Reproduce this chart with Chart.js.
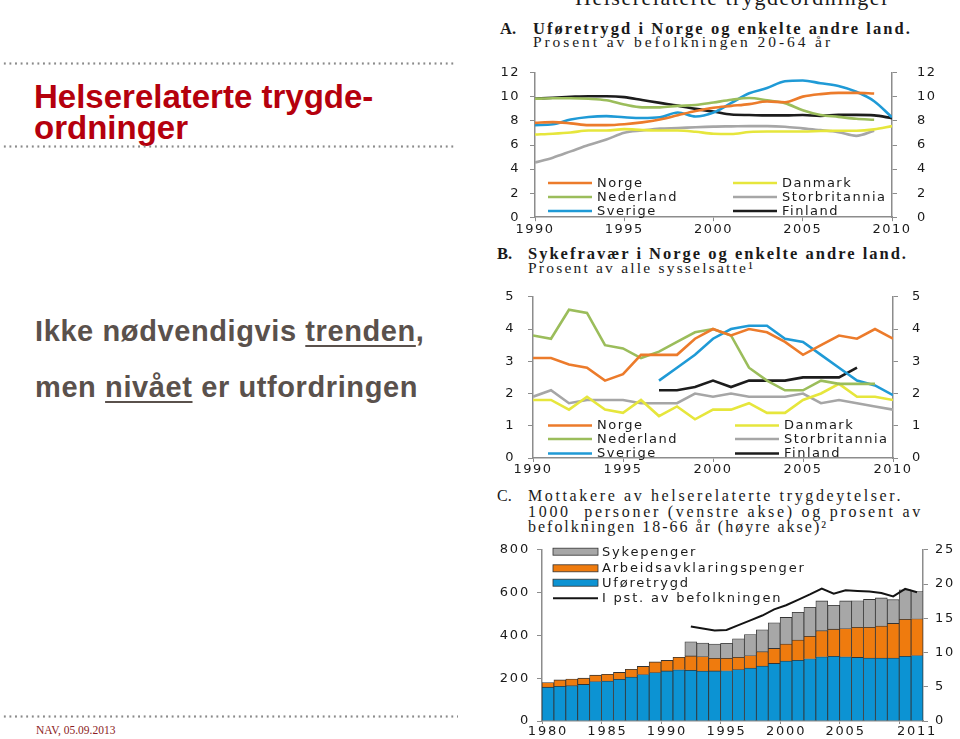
<!DOCTYPE html>
<html>
<head>
<meta charset="utf-8">
<script src="https://cdn.jsdelivr.net/npm/chart.js@4.4.0/dist/chart.umd.min.js"></script>
<style>
  body { margin: 0; background: #fff; }
  #slide { position: relative; width: 960px; height: 739px; overflow: hidden; background: #fff;
           font-family: "Liberation Sans", Arial, sans-serif; }
  .abs { position: absolute; white-space: pre; line-height: 1; }
  .dots { position: absolute; left: 2px; height: 3px;
          background-image: radial-gradient(circle, #8a8a8a 0.9px, transparent 1.4px);
          background-size: 5.6px 3px; background-repeat: repeat-x; }
  .title { color: #b5000d; font-weight: bold; font-size: 33px; left: 34px; }
  .body { color: #5a514c; font-weight: bold; font-size: 29px; left: 35px; letter-spacing: 0.6px; }
  .u { text-decoration: underline; text-decoration-thickness: 2px; text-underline-offset: 4px; }
  .serif { font-family: "Liberation Serif", "Times New Roman", serif; color: #1a1a1a; font-size: 15.5px; }
  .head { font-size: 16.5px; font-weight: bold; }
  .ctitle { font-size: 16px; }
  canvas { position: absolute; }
</style>
</head>
<body>
<div id="slide">
  <div class="abs serif" style="left:575px;top:-13px;font-size:22px;" data-w="315">Helserelaterte trygdeordninger</div>

  <div class="dots" style="top:62px;width:454px"></div>
  <div class="abs title" style="top:80px">Helserelaterte trygde-</div>
  <div class="abs title" style="top:111px">ordninger</div>
  <div class="dots" style="top:145px;width:454px"></div>

  <div class="abs body" style="top:317px">Ikke nødvendigvis <span class="u">trenden</span>,</div>
  <div class="abs body" style="top:373px">men <span class="u">nivået</span> er utfordringen</div>

  <div class="dots" style="top:715px;width:456px"></div>
  <div class="abs" style="left:36px;top:725px;font-family:'Liberation Serif',serif;font-size:11.5px;color:#8b1c24">NAV, 05.09.2013</div>

  <!-- chart titles -->
  <div class="abs serif head" style="left:500px;top:20.5px">A.</div>
  <div class="abs serif head" style="left:533px;top:20.5px" data-w="379">Uføretrygd i Norge og enkelte andre land.</div>
  <div class="abs serif" style="left:533px;top:34.3px" data-w="300">Prosent av befolkningen 20-64 år</div>

  <div class="abs serif head" style="left:497px;top:246.2px">B.</div>
  <div class="abs serif head" style="left:528px;top:246.2px" data-w="380">Sykefravær i Norge og enkelte andre land.</div>
  <div class="abs serif" style="left:528px;top:260.3px" data-w="227">Prosent av alle sysselsatte¹</div>

  <div class="abs serif ctitle" style="left:497px;top:488.3px">C.</div>
  <div class="abs serif ctitle" style="left:528px;top:488.3px" data-w="375">Mottakere av helserelaterte trygdeytelser.</div>
  <div class="abs serif ctitle" style="left:528px;top:503.9px" data-w="395">1000  personer (venstre akse) og prosent av</div>
  <div class="abs serif ctitle" style="left:528px;top:519.3px" data-w="300">befolkningen 18-66 år (høyre akse)²</div>

  <canvas id="chartA" width="460" height="200" style="left:490px;top:45px"></canvas>
  <canvas id="chartB" width="460" height="205" style="left:490px;top:275px"></canvas>
  <canvas id="chartC" width="470" height="204" style="left:490px;top:535px"></canvas>
</div>

<script>
// --- Data: chart A, uføretrygd (% of population 20-64)
const yearsAB = [1990, 1991, 1992, 1993, 1994, 1995, 1996, 1997, 1998, 1999, 2000,
                 2001, 2002, 2003, 2004, 2005, 2006, 2007, 2008, 2009, 2010];
const ufoNorge = [7.84, 7.9, 7.8, 7.65, 7.65, 7.72, 7.88, 8.12, 8.47, 8.82, 9.1, 9.25, 9.4, 9.62, 9.55, 10.02, 10.23, 10.33, 10.33, 10.28, null];
const ufoNederland = [9.84, 9.88, 9.88, 9.84, 9.72, 9.36, 9.13, 9.13, 9.25, 9.32, 9.53, 9.76, 9.9, 9.71, 9.48, 8.89, 8.49, 8.34, 8.18, 8.1, null];
const ufoSverige = [7.65, 7.72, 8.12, 8.33, 8.4, 8.3, 8.24, 8.3, 8.7, 8.37, 8.7, 9.5, 10.3, 10.73, 11.3, 11.36, 11.13, 10.9, 10.42, 9.64, 8.3];
const ufoDanmark = [6.87, 6.94, 7.04, 7.2, 7.2, 7.32, 7.25, 7.2, 7.2, 7.1, 6.94, 6.92, 7.08, 7.12, 7.12, 7.12, 7.16, 7.19, 7.19, 7.3, 7.57];
const ufoStorbritannia = [4.55, 4.95, 5.47, 6.0, 6.45, 7.02, 7.2, 7.36, 7.41, 7.48, 7.53, 7.55, 7.57, 7.57, 7.52, 7.38, 7.24, 7.07, 6.76, 7.19, null];
const ufoFinland = [9.84, 9.93, 10.0, 10.05, 10.05, 9.98, 9.74, 9.5, 9.27, 9.0, 8.78, 8.53, 8.49, 8.46, 8.46, 8.49, 8.42, 8.5, 8.5, 8.46, 8.23];

// --- Data: chart B, sykefravær (% of employed)
const syNorge = [3.1, 3.1, 2.9, 2.8, 2.4, 2.6, 3.2, 3.2, 3.2, 3.7, 4.0, 3.8, 4.0, 3.9, 3.6, 3.2, 3.5, 3.8, 3.7, 4.0, 3.7];
const syNederland = [3.8, 3.7, 4.6, 4.5, 3.5, 3.4, 3.1, 3.3, 3.6, 3.9, 4.0, 3.8, 2.8, 2.4, 2.1, 2.1, 2.4, 2.3, 2.3, 2.3, null];
const sySverige = [null, null, null, null, null, null, null, 2.4, 2.8, 3.2, 3.7, 4.0, 4.1, 4.1, 3.7, 3.6, 3.2, 2.8, 2.4, 2.25, 1.95];
const syDanmark = [1.8, 1.8, 1.5, 1.9, 1.5, 1.4, 1.8, 1.3, 1.6, 1.2, 1.5, 1.5, 1.7, 1.4, 1.4, 1.8, 2.0, 2.3, 1.9, 1.9, 1.8];
const syStorbritannia = [1.9, 2.1, 1.7, 1.8, 1.8, 1.8, 1.7, 1.7, 1.7, 2.0, 1.9, 2.0, 1.9, 1.9, 1.9, 2.0, 1.7, 1.8, 1.7, 1.6, 1.5];
const syFinland = [null, null, null, null, null, null, null, 2.1, 2.1, 2.2, 2.4, 2.2, 2.4, 2.4, 2.4, 2.5, 2.5, 2.5, 2.8, null, null];

// --- Data: chart C, mottakere (1000 personer) and share of population 18-66
const yearsC = [1980, 1981, 1982, 1983, 1984, 1985, 1986, 1987, 1988, 1989, 1990, 1991,
                1992, 1993, 1994, 1995, 1996, 1997, 1998, 1999, 2000, 2001, 2002, 2003,
                2004, 2005, 2006, 2007, 2008, 2009, 2010, 2011];
const uforetrygd = [158, 162, 165, 171, 184, 187, 195, 205, 217, 226, 234, 239, 237, 233, 234, 235, 240, 247, 257, 269, 280, 284, 291, 300, 302, 300, 297, 294, 294, 294, 302, 306];
const arbeidsavklaring = [22, 30, 31, 29, 30, 31, 32, 37, 38, 50, 49, 59, 67, 68, 59, 58, 58, 59, 67, 70, 80, 94, 105, 122, 127, 132, 141, 144, 150, 162, 173, 172];
const sykepenger = [null, null, null, null, null, null, null, null, null, null, null, null,
                    66, 63, 67, 70, 86, 98, 102, 120, 124, 130, 135, 139, 112, 129, 124, 130, 131, 111, 138, 127];
const pstBefolkning = [null, null, null, null, null, null, null, null, null, null, null, null,
                       13.8, 13.5, 13.2, 13.3, 14.0, 14.7, 15.4, 16.3, 16.9, 17.7, 18.5, 19.35, 18.6, 19.1, 19.0, 18.9, 18.7, 18.2, 19.3, 18.8];
const xTicksC = [1980, 1985, 1990, 1995, 2000, 2005, 2011];

const axisGrey = '#8c8c8c';
const tickFont = { family: 'DejaVu Sans', size: 13 };
Chart.defaults.font.family = 'DejaVu Sans';
Chart.defaults.animation = false;

// stretch the title lines to the widths seen in the picture
document.querySelectorAll('[data-w]').forEach(el => {
  el.style.letterSpacing = '0px';
  const w = el.getBoundingClientRect().width;
  el.style.letterSpacing = ((+el.dataset.w - w) / el.textContent.length) + 'px';
});

// wide-set axis text, like the original print
const spacingPlugin = {
  id: 'spacing',
  beforeDraw(chart, args, opts) { chart.ctx.letterSpacing = (opts.px || 0) + 'px'; }
};

// legend drawn inside the plot, at the given spots
const legendPlugin = {
  id: 'boxLegend',
  afterDraw(chart, args, opts) {
    const ctx = chart.ctx;
    ctx.save();
    ctx.font = '13px "DejaVu Sans"';
    ctx.textBaseline = 'middle';
    chart.data.datasets.forEach((ds, i) => {
      const it = opts.items[i];
      if ((ds.type || chart.config.type) === 'bar') {
        ctx.fillStyle = ds.backgroundColor;
        ctx.fillRect(it.x, it.y - 3.5, opts.sample, 7);
        ctx.strokeStyle = '#333';
        ctx.lineWidth = 0.8;
        ctx.strokeRect(it.x, it.y - 3.5, opts.sample, 7);
      } else {
        ctx.strokeStyle = ds.borderColor;
        ctx.lineWidth = ds.borderWidth;
        ctx.beginPath();
        ctx.moveTo(it.x, it.y);
        ctx.lineTo(it.x + opts.sample, it.y);
        ctx.stroke();
      }
      ctx.fillStyle = '#1a1a1a';
      ctx.fillText(ds.label, it.x + opts.sample + opts.gap, it.y + 0.5);
    });
    ctx.restore();
  }
};

function series(values) {
  return yearsAB.map((yr, i) => ({ x: yr, y: values[i] }));
}

function lineDataset(label, values, color, tension) {
  return {
    label: label,
    data: series(values),
    borderColor: color,
    backgroundColor: color,
    borderWidth: 2.6,
    pointRadius: 0,
    tension: tension,
    cubicInterpolationMode: tension ? 'monotone' : 'default'
  };
}

function sideAxis(position, max, step, width, pad) {
  return {
    position: position,
    min: 0,
    max: max,
    ticks: { stepSize: step, color: '#1a1a1a', font: tickFont, padding: pad },
    border: { color: axisGrey, width: 1.5 },
    grid: { drawOnChartArea: false, color: axisGrey, tickLength: 5 },
    afterFit: s => { s.width = width; }
  };
}

function yearAxis(height, pad) {
  return {
    type: 'linear',
    min: 1990,
    max: 2010,
    ticks: { stepSize: 5, color: '#1a1a1a', font: tickFont, padding: pad, callback: v => String(v) },
    border: { color: axisGrey, width: 1.5 },
    grid: { drawOnChartArea: false, color: axisGrey, tickLength: 4 },
    afterFit: s => { s.height = height; }
  };
}

// Chart A: Uføretrygd
new Chart(document.getElementById('chartA'), {
  type: 'line',
  data: {
    datasets: [
      lineDataset('Norge', ufoNorge, '#ec7b2b', 0.4),
      lineDataset('Nederland', ufoNederland, '#9bbd5b', 0.4),
      lineDataset('Sverige', ufoSverige, '#1f9ad6', 0.4),
      lineDataset('Danmark', ufoDanmark, '#e6e63c', 0.4),
      lineDataset('Storbritannia', ufoStorbritannia, '#a6a6a6', 0.4),
      lineDataset('Finland', ufoFinland, '#1c1c1c', 0.4)
    ]
  },
  options: {
    responsive: false,
    layout: { padding: { top: 8, left: 0, right: 0, bottom: 0 } },
    plugins: {
      legend: { display: false },
      tooltip: { enabled: false },
      spacing: { px: 1.5 },
      boxLegend: {
        sample: 44, gap: 5,
        items: [
          { x: 58, y: 138 }, { x: 58, y: 152 }, { x: 58, y: 166 },
          { x: 243, y: 138 }, { x: 243, y: 152 }, { x: 243, y: 166 }
        ]
      }
    },
    scales: {
      x: yearAxis(23, 1),
      y: sideAxis('left', 12, 2, 45, 10),
      y2: sideAxis('right', 12, 2, 58, 20)
    }
  },
  plugins: [spacingPlugin, legendPlugin]
});

// Chart B: Sykefravær
new Chart(document.getElementById('chartB'), {
  type: 'line',
  data: {
    datasets: [
      lineDataset('Norge', syNorge, '#ec7b2b', 0),
      lineDataset('Nederland', syNederland, '#9bbd5b', 0),
      lineDataset('Sverige', sySverige, '#1f9ad6', 0),
      lineDataset('Danmark', syDanmark, '#e6e63c', 0),
      lineDataset('Storbritannia', syStorbritannia, '#a6a6a6', 0),
      lineDataset('Finland', syFinland, '#1c1c1c', 0)
    ]
  },
  options: {
    responsive: false,
    layout: { padding: { top: 8, left: 0, right: 0, bottom: 0 } },
    plugins: {
      legend: { display: false },
      tooltip: { enabled: false },
      spacing: { px: 1.5 },
      boxLegend: {
        sample: 44, gap: 5,
        items: [
          { x: 58, y: 150.5 }, { x: 58, y: 164 }, { x: 58, y: 178.5 },
          { x: 245, y: 150.5 }, { x: 245, y: 164 }, { x: 245, y: 178.5 }
        ]
      }
    },
    scales: {
      x: yearAxis(22, 0),
      y: sideAxis('left', 5, 1, 43, 13),
      y2: sideAxis('right', 5, 1, 57, 14)
    }
  },
  plugins: [spacingPlugin, legendPlugin]
});

// Chart C: Mottakere av helserelaterte trygdeytelser
const barBorder = { left: 0.8, right: 0.8, top: 0.8, bottom: 0 };
new Chart(document.getElementById('chartC'), {
  type: 'bar',
  data: {
    labels: yearsC,
    datasets: [
      { label: 'Uføretrygd', data: uforetrygd, backgroundColor: '#0c93d3', borderColor: '#333',
        borderWidth: barBorder, borderSkipped: false, order: 2 },
      { label: 'Arbeidsavklaringspenger', data: arbeidsavklaring, backgroundColor: '#ef7b0e', borderColor: '#333',
        borderWidth: barBorder, borderSkipped: false, order: 2 },
      { label: 'Sykepenger', data: sykepenger, backgroundColor: '#a7a7a7', borderColor: '#333',
        borderWidth: barBorder, borderSkipped: false, order: 2 },
      { type: 'line', label: 'I pst. av befolkningen', data: pstBefolkning, yAxisID: 'y2',
        borderColor: '#141414', borderWidth: 2, pointRadius: 0, tension: 0, order: 0 }
    ]
  },
  options: {
    responsive: false,
    categoryPercentage: 1,
    barPercentage: 1,
    layout: { padding: { top: 8, left: 0, right: 0, bottom: 0 } },
    plugins: {
      legend: { display: false },
      tooltip: { enabled: false },
      spacing: { px: 1.8 },
      boxLegend: {
        sample: 45, gap: 4,
        items: [ { x: 63, y: 47.7 }, { x: 63, y: 33.3 }, { x: 63, y: 16.7 }, { x: 63, y: 63.3 } ]
      }
    },
    scales: {
      x: {
        stacked: true,
        ticks: {
          autoSkip: false, maxRotation: 0, color: '#1a1a1a', font: tickFont, padding: 0,
          callback: (v, i) => (xTicksC.includes(yearsC[i]) ? String(yearsC[i]) : '')
        },
        border: { color: axisGrey, width: 1.5 },
        grid: {
          drawOnChartArea: false, tickLength: 3, color: axisGrey,
          tickColor: c => (yearsC[c.index] % 5 === 0 ? axisGrey : 'transparent')
        },
        afterFit: s => { s.height = 18; }
      },
      y: Object.assign(sideAxis('left', 800, 200, 52, 7), { stacked: true }),
      y2: sideAxis('right', 25, 5, 37, 7)
    }
  },
  plugins: [spacingPlugin, legendPlugin]
});
</script>
</body>
</html>
